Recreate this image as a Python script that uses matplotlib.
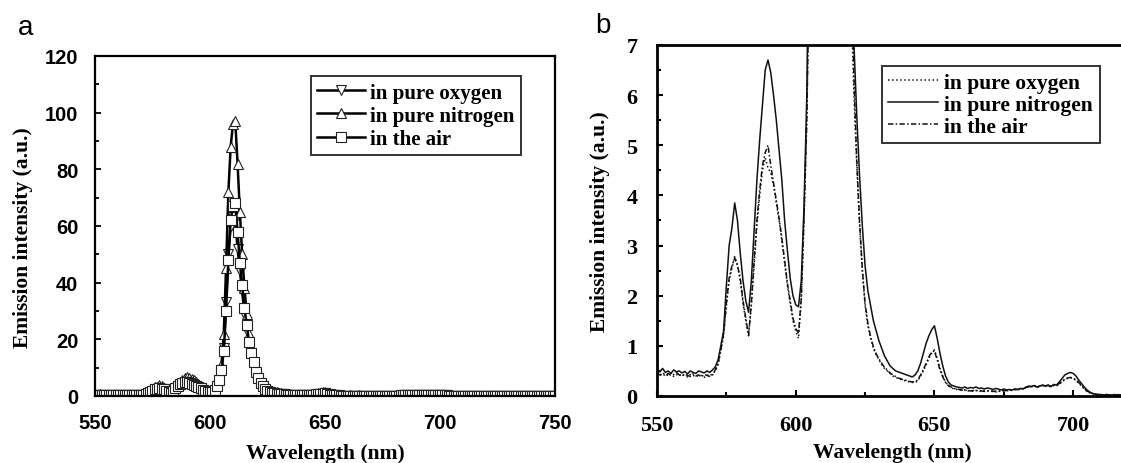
import numpy as np
import matplotlib
matplotlib.use("Agg")
import matplotlib.pyplot as plt
from matplotlib.ticker import MultipleLocator

# emission spectra, 1 nm steps from 550 to 750 nm
wavelength = np.arange(550, 751)

oxygen = [
    0.44, 0.40, 0.46, 0.42, 0.41, 0.45, 0.39, 0.43, 0.40, 0.44,
    0.41, 0.38, 0.43, 0.40, 0.42, 0.39, 0.41, 0.37, 0.42, 0.40,
    0.44, 0.50, 0.62, 0.90, 1.20, 1.80, 2.30, 2.55, 2.78, 2.62,
    2.30, 1.85, 1.50, 1.22, 1.80, 2.60, 3.40, 4.00, 4.50, 4.75,
    4.55, 4.45, 4.20, 3.85, 3.50, 3.10, 2.65, 2.20, 1.85, 1.50,
    1.30, 1.15, 1.90, 3.50, 5.60, 9.00, 17.0, 33.0, 50.0, 60.0,
    63.0, 62.0, 52.0, 44.0, 37.0, 29.0, 23.0, 18.0, 14.0, 11.0,
    7.80, 6.00, 4.60, 3.40, 2.50, 1.80, 1.40, 1.15, 0.95, 0.82,
    0.72, 0.63, 0.55, 0.50, 0.45, 0.40, 0.37, 0.35, 0.33, 0.31,
    0.30, 0.28, 0.27, 0.27, 0.30, 0.40, 0.50, 0.62, 0.75, 0.85,
    0.92, 0.75, 0.55, 0.40, 0.28, 0.20, 0.17, 0.14, 0.13, 0.12,
    0.11, 0.12, 0.10, 0.11, 0.09, 0.11, 0.10, 0.09, 0.11, 0.10,
    0.09, 0.10, 0.08, 0.10, 0.09, 0.11, 0.10, 0.12, 0.11, 0.13,
    0.12, 0.14, 0.15, 0.17, 0.19, 0.18, 0.20, 0.17, 0.19, 0.21,
    0.19, 0.20, 0.18, 0.21, 0.20, 0.24, 0.28, 0.33, 0.35, 0.36,
    0.35, 0.31, 0.26, 0.20, 0.14, 0.09, 0.06, 0.04, 0.03, 0.02,
    0.02, 0.03, 0.02, 0.02, 0.03, 0.02, 0.02, 0.03, 0.02, 0.02,
    0.03, 0.02, 0.02, 0.03, 0.02, 0.02, 0.02, 0.03, 0.02, 0.02,
    0.02, 0.03, 0.02, 0.02, 0.02, 0.03, 0.02, 0.02, 0.03, 0.02,
    0.02, 0.02, 0.03, 0.02, 0.02, 0.02, 0.03, 0.02, 0.02, 0.02,
    0.02,
]

nitrogen = [
    0.52, 0.48, 0.55, 0.47, 0.50, 0.45, 0.52, 0.48, 0.50, 0.46,
    0.49, 0.44, 0.50, 0.47, 0.45, 0.50, 0.48, 0.46, 0.50, 0.47,
    0.52, 0.58, 0.72, 1.00, 1.30, 2.20, 3.00, 3.35, 3.85, 3.50,
    2.85, 2.30, 1.90, 1.67, 2.30, 3.30, 4.30, 5.10, 5.80, 6.50,
    6.70, 6.45, 6.00, 5.50, 4.90, 4.30, 3.50, 2.90, 2.35, 2.00,
    1.82, 1.78, 2.30, 3.80, 6.00, 11.0, 22.0, 45.0, 72.0, 88.0,
    96.0, 97.0, 82.0, 65.0, 50.0, 38.0, 29.0, 22.0, 16.0, 12.0,
    9.00, 7.00, 5.60, 4.40, 3.40, 2.60, 2.10, 1.80, 1.50, 1.30,
    1.10, 0.95, 0.80, 0.70, 0.60, 0.55, 0.50, 0.48, 0.46, 0.44,
    0.42, 0.40, 0.38, 0.42, 0.50, 0.65, 0.85, 1.05, 1.20, 1.32,
    1.40, 1.15, 0.85, 0.60, 0.40, 0.28, 0.22, 0.20, 0.18, 0.17,
    0.16, 0.18, 0.15, 0.17, 0.16, 0.18, 0.15, 0.16, 0.14, 0.16,
    0.15, 0.13, 0.15, 0.14, 0.12, 0.14, 0.12, 0.13, 0.12, 0.14,
    0.13, 0.15, 0.14, 0.17, 0.20, 0.19, 0.21, 0.18, 0.20, 0.22,
    0.20, 0.22, 0.19, 0.23, 0.22, 0.28, 0.35, 0.42, 0.45, 0.47,
    0.45, 0.40, 0.32, 0.25, 0.18, 0.12, 0.08, 0.05, 0.04, 0.03,
    0.03, 0.02, 0.03, 0.02, 0.02, 0.03, 0.02, 0.02, 0.03, 0.02,
    0.02, 0.03, 0.02, 0.02, 0.03, 0.02, 0.02, 0.02, 0.03, 0.02,
    0.02, 0.02, 0.03, 0.02, 0.02, 0.03, 0.02, 0.02, 0.02, 0.03,
    0.02, 0.03, 0.02, 0.02, 0.02, 0.03, 0.02, 0.02, 0.02, 0.02,
    0.02,
]

air = [
    0.46, 0.42, 0.44, 0.40, 0.45, 0.41, 0.43, 0.47, 0.42, 0.40,
    0.43, 0.41, 0.39, 0.44, 0.40, 0.42, 0.38, 0.43, 0.41, 0.39,
    0.42, 0.52, 0.65, 0.92, 1.25, 1.85, 2.35, 2.60, 2.75, 2.60,
    2.35, 1.90, 1.55, 1.20, 1.85, 2.70, 3.50, 4.10, 4.60, 4.85,
    5.00, 4.60, 4.25, 3.90, 3.55, 3.15, 2.70, 2.25, 1.90, 1.55,
    1.35, 1.25, 1.95, 3.60, 5.50, 9.00, 16.0, 30.0, 48.0, 62.0,
    67.0, 68.0, 58.0, 47.0, 39.0, 31.0, 25.0, 19.0, 15.0, 12.0,
    8.50, 6.30, 4.70, 3.50, 2.55, 1.85, 1.45, 1.18, 0.98, 0.84,
    0.74, 0.65, 0.57, 0.52, 0.46, 0.42, 0.39, 0.36, 0.34, 0.32,
    0.31, 0.29, 0.28, 0.29, 0.32, 0.42, 0.53, 0.65, 0.78, 0.88,
    0.90, 0.72, 0.52, 0.38, 0.27, 0.21, 0.18, 0.15, 0.14, 0.13,
    0.12, 0.11, 0.12, 0.10, 0.11, 0.10, 0.12, 0.10, 0.09, 0.11,
    0.10, 0.09, 0.10, 0.09, 0.11, 0.10, 0.11, 0.12, 0.12, 0.13,
    0.13, 0.15, 0.14, 0.18, 0.18, 0.19, 0.19, 0.18, 0.20, 0.20,
    0.20, 0.21, 0.19, 0.22, 0.21, 0.25, 0.29, 0.34, 0.36, 0.37,
    0.36, 0.32, 0.27, 0.21, 0.15, 0.10, 0.07, 0.05, 0.03, 0.03,
    0.02, 0.02, 0.03, 0.02, 0.02, 0.02, 0.03, 0.02, 0.02, 0.02,
    0.03, 0.02, 0.02, 0.02, 0.03, 0.02, 0.02, 0.03, 0.02, 0.02,
    0.02, 0.02, 0.03, 0.02, 0.02, 0.02, 0.02, 0.03, 0.02, 0.02,
    0.03, 0.02, 0.02, 0.02, 0.02, 0.03, 0.02, 0.02, 0.02, 0.02,
    0.02,
]

labels = ["in pure oxygen", "in pure nitrogen", "in the air"]

serif = "Liberation Serif"
sans = "Liberation Sans"

fig = plt.figure(figsize=(11.21, 4.64), dpi=100)

# ---- panel a ----
ax1 = fig.add_axes([0.0847, 0.1444, 0.4104, 0.7328])
markers = ["v", "^", "s"]
for y, lab, m in zip([oxygen, nitrogen, air], labels, markers):
    ax1.plot(wavelength, y, "-", color="black", lw=1.8, marker=m, ms=6.5,
             mfc="white", mec="#222222", mew=0.8, label=lab)
ax1.set_xlim(550, 750)
ax1.set_ylim(0, 120)
ax1.xaxis.set_major_locator(MultipleLocator(50))
ax1.yaxis.set_major_locator(MultipleLocator(20))
ax1.yaxis.set_minor_locator(MultipleLocator(10))
ax1.tick_params(which="both", direction="in", width=1.3)
ax1.tick_params(which="major", length=4)
ax1.tick_params(which="minor", length=3)
ax1.tick_params(axis="y", which="major", pad=12)
ax1.tick_params(axis="x", which="major", pad=12)
for t in ax1.get_xticklabels() + ax1.get_yticklabels():
    t.set_fontfamily(sans)
    t.set_fontweight("bold")
    t.set_fontsize(14.5)
for s in ax1.spines.values():
    s.set_linewidth(1.6)
ax1.set_xlabel("Wavelength (nm)", fontfamily=serif, fontweight="bold",
               fontsize=15.5, labelpad=8)
ax1.set_ylabel("Emission intensity (a.u.)", fontfamily=serif,
               fontweight="bold", fontsize=15.5)
ax1.yaxis.set_label_coords(-0.135, 0.47)
leg1 = ax1.legend(loc="upper right", bbox_to_anchor=(0.925, 0.94),
                  prop={"family": serif, "weight": "bold", "size": 15},
                  frameon=True, fancybox=False, edgecolor="black",
                  handlelength=2.3, handletextpad=0.25, labelspacing=0.15,
                  borderpad=0.3, borderaxespad=0)
leg1.get_frame().set_linewidth(1.4)
fig.text(0.016, 0.94, "a", fontfamily=sans, fontsize=20, va="center")

# ---- panel b ----
ax2 = fig.add_axes([0.5861, 0.1444, 0.4207, 0.7565])
styles = [":", "-", (0, (3.5, 1.5, 1, 1.5))]
for y, lab, ls in zip([oxygen, nitrogen, air], labels, styles):
    ax2.plot(wavelength, y, linestyle=ls, color="#111111", lw=1.1, label=lab)
ax2.set_xlim(550, 720)
ax2.set_ylim(0, 7)
ax2.xaxis.set_major_locator(MultipleLocator(50))
ax2.xaxis.set_minor_locator(MultipleLocator(25))
ax2.yaxis.set_major_locator(MultipleLocator(1))
ax2.yaxis.set_minor_locator(MultipleLocator(0.5))
ax2.tick_params(which="both", direction="in", width=1.5)
ax2.tick_params(which="major", length=4, pad=14)
ax2.tick_params(which="minor", length=3)
for t in ax2.get_xticklabels() + ax2.get_yticklabels():
    t.set_fontfamily(serif)
    t.set_fontweight("bold")
    t.set_fontsize(16)
for s in ax2.spines.values():
    s.set_linewidth(2)
ax2.set_xlabel("Wavelength (nm)", fontfamily=serif, fontweight="bold",
               fontsize=15.5, labelpad=5)
ax2.set_ylabel("Emission intensity (a.u.)", fontfamily=serif,
               fontweight="bold", fontsize=15.5, labelpad=12)
leg2 = ax2.legend(loc="upper left", bbox_to_anchor=(0.477, 0.94),
                  prop={"family": serif, "weight": "bold", "size": 15.5},
                  frameon=True, fancybox=False, edgecolor="black",
                  handlelength=2.3, handletextpad=0.3, labelspacing=0.1,
                  borderpad=0.3, borderaxespad=0)
leg2.get_frame().set_linewidth(1.4)
fig.text(0.531, 0.945, "b", fontfamily=sans, fontsize=20, va="center")

fig.savefig("out.png", dpi=100)
plt.close(fig)
